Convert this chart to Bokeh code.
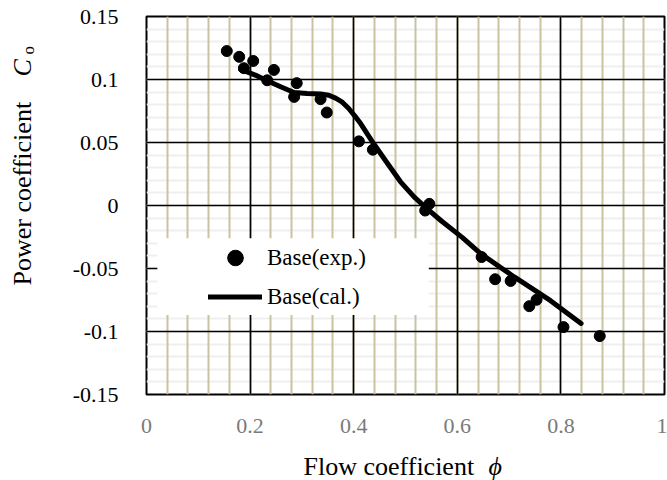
import math

from bokeh.core.properties import value
from bokeh.embed import file_html
from bokeh.layouts import column, row
from bokeh.models import (BoxAnnotation, CustomJSTickFormatter, FixedTicker, Grid,
                          Legend, LegendItem)
from bokeh.plotting import figure
from bokeh.resources import INLINE

# Measured power coefficient (experiment)
exp_phi = [0.155, 0.179, 0.206, 0.188, 0.246, 0.233, 0.290, 0.285, 0.336, 0.348,
           0.410, 0.437, 0.546, 0.538, 0.647, 0.673, 0.703, 0.739, 0.753, 0.805, 0.875]
exp_co = [0.1226, 0.1180, 0.1147, 0.1090, 0.1076, 0.0994, 0.0971, 0.0862, 0.0844, 0.0738,
          0.0509, 0.0443, 0.0013, -0.0040, -0.0409, -0.0585, -0.0599, -0.0799, -0.0748,
          -0.0965, -0.1036]

# Calculated power coefficient curve
cal_phi = [0.182, 0.21, 0.233, 0.26, 0.285, 0.31, 0.336, 0.352, 0.365, 0.378, 0.39,
           0.402, 0.414, 0.439, 0.465, 0.49, 0.517, 0.542, 0.57, 0.61, 0.645, 0.71,
           0.78, 0.839]
cal_co = [0.108, 0.1035, 0.099, 0.094, 0.0897, 0.0888, 0.0885, 0.0875, 0.0852, 0.082,
          0.0772, 0.0712, 0.0646, 0.0488, 0.0335, 0.019, 0.0066, -0.0026, -0.0125,
          -0.0255, -0.0382, -0.0567, -0.0755, -0.0936]

x_ticks = [0, 0.2, 0.4, 0.6, 0.8, 1]
y_ticks = [-0.15, -0.1, -0.05, 0, 0.05, 0.1, 0.15]
x_minor = [round(i * 0.04, 2) for i in range(26)]
y_minor = [round(-0.15 + i * 0.01, 2) for i in range(31)]

labels = ["Base(exp.)", "Base(cal.)"]
x_title = ["Flow coefficient", "\u03d5"]
y_title = ["Power coefficient", "C", "o"]

SERIF = "Liberation Serif"

# frame borders shared by the plot and the title strips
TOP, BOTTOM, LEFT, RIGHT = 16, 52, 106, 3
STRIP_W, PLOT_W, PLOT_H, STRIP_H = 40, 627, 446, 34

# ---- main plot -------------------------------------------------------------
p = figure(width=PLOT_W, height=PLOT_H, x_range=(0, 1), y_range=(-0.15, 0.15),
           output_backend="svg", toolbar_location=None,
           min_border_left=LEFT, min_border_right=RIGHT, min_border_top=TOP,
           min_border_bottom=BOTTOM)
p.background_fill_color = "white"
p.border_fill_color = "white"
p.outline_line_color = "black"
p.outline_line_width = 2
p.grid.visible = False

fmt = CustomJSTickFormatter(code="return String(tick);")
p.xaxis.ticker = FixedTicker(ticks=x_ticks)
p.yaxis.ticker = FixedTicker(ticks=y_ticks)
for ax in (p.xaxis, p.yaxis):
    ax.formatter = fmt
    ax.axis_line_color = None
    ax.major_tick_line_color = None
    ax.minor_tick_line_color = None
    ax.major_label_text_font = SERIF
p.xaxis.major_label_text_font_size = "22px"
p.xaxis.major_label_text_color = "#7a7a7a"
p.xaxis.major_label_standoff = 18
p.yaxis.major_label_text_font_size = "22px"
p.yaxis.major_label_text_color = "black"
p.yaxis.major_label_standoff = 22

# grid: faint horizontal minors, tan vertical minors, black majors
p.add_layout(Grid(dimension=1, ticker=FixedTicker(ticks=[], minor_ticks=y_minor),
                  grid_line_color=None, minor_grid_line_color="#efefef",
                  minor_grid_line_width=2))
p.add_layout(Grid(dimension=0, ticker=FixedTicker(ticks=x_ticks, minor_ticks=x_minor),
                  grid_line_color="black", grid_line_width=1.6,
                  minor_grid_line_color="#cbc3a0", minor_grid_line_width=2))
p.add_layout(Grid(dimension=1, ticker=FixedTicker(ticks=y_ticks),
                  grid_line_color="black", grid_line_width=1.6))

ln = p.line(cal_phi, cal_co, line_width=5, line_color="black", line_join="round",
            line_cap="round")
sc = p.scatter(exp_phi, exp_co, size=11, fill_color="black", line_color="black")

# legend panel
p.add_layout(BoxAnnotation(left=0.021, right=0.545, top=-0.026, bottom=-0.087,
                           fill_color="white", fill_alpha=1.0, line_color=None))
legend = Legend(items=[LegendItem(label=labels[0], renderers=[sc]),
                       LegendItem(label=labels[1], renderers=[ln])],
                location=(62, 78), background_fill_alpha=0, border_line_color=None,
                padding=0, margin=0, spacing=0, glyph_width=54, glyph_height=39,
                label_height=39, label_standoff=5, label_text_font=SERIF,
                label_text_font_size="23px", label_text_color="black")
p.add_layout(legend)


def title_strip(width, height, x_range, y_range, **borders):
    f = figure(width=width, height=height, x_range=x_range, y_range=y_range,
               output_backend="svg", toolbar_location=None, x_axis_type=None,
               y_axis_type=None, min_border=0, **borders)
    f.grid.visible = False
    f.outline_line_color = None
    f.background_fill_color = "white"
    f.border_fill_color = "white"
    return f


def put(fig, x, y, text, size="26px", style="normal", angle=0.0):
    fig.text(x=[x], y=[y], text=[text], angle=angle, text_font=value(SERIF),
             text_font_style=style, text_font_size=size, text_align="left",
             text_baseline="alphabetic", text_color="black")


# ---- y-axis title strip: pixel units, same vertical frame as the plot -------
frame_h = PLOT_H - TOP - BOTTOM
ty = title_strip(STRIP_W, PLOT_H, (0, STRIP_W), (0, frame_h),
                 min_border_top=TOP, min_border_bottom=BOTTOM)
up = math.pi / 2
put(ty, 22, 109, y_title[0], angle=up)
put(ty, 22, 318, y_title[1], style="italic", angle=up)
put(ty, 28, 340, y_title[2], size="17px", angle=up)

# ---- x-axis title strip: pixel units, same horizontal frame as the plot -----
x0 = STRIP_W + LEFT
tx = title_strip(PLOT_W, STRIP_H, (x0, x0 + PLOT_W - LEFT - RIGHT), (0, STRIP_H),
                 min_border_left=LEFT, min_border_right=RIGHT)
put(tx, 303, 14, x_title[0])
put(tx, 488, 14, x_title[1], style="italic")

layout = row(ty, column(p, tx, spacing=0), spacing=0)

open("out.html", "w").write(file_html(layout, INLINE))
